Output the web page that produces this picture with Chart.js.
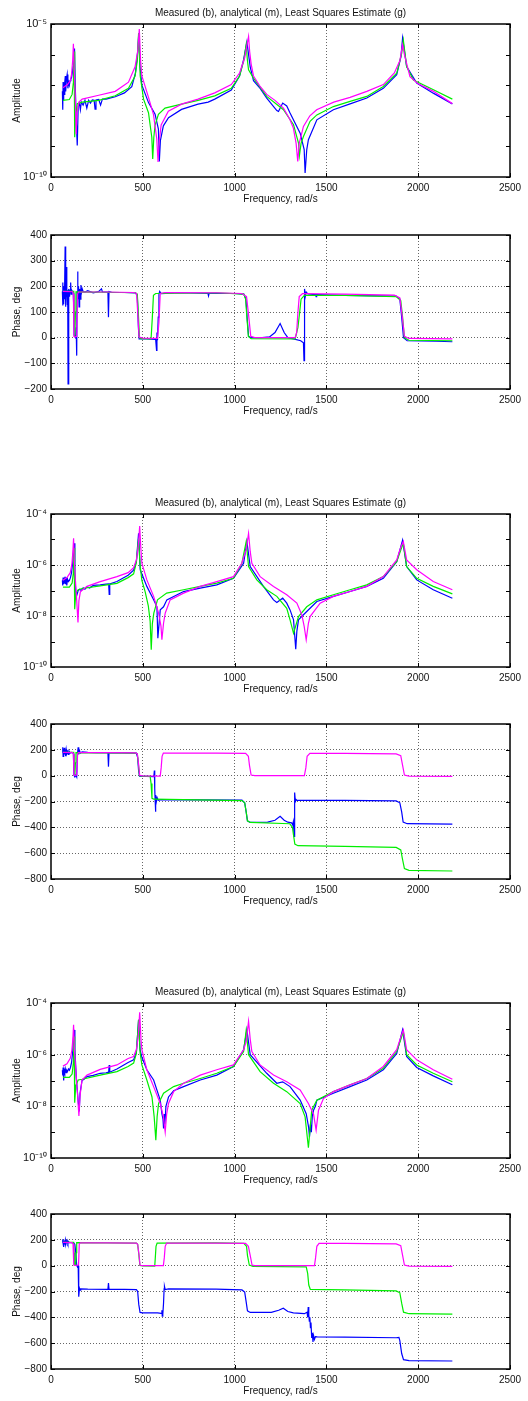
<!DOCTYPE html>
<html>
<head>
<meta charset="utf-8">
<script src="https://cdn.jsdelivr.net/npm/chart.js@4.4.1/dist/chart.umd.min.js"></script>
<style>
html, body { margin: 0; padding: 0; background: #fff; overflow: hidden; }
body { width: 528px; height: 1401px; position: relative; }
canvas { position: absolute; left: 0; }
</style>
</head>
<body>
<canvas id="amp1" width="528" height="211" style="top:0px"></canvas>
<canvas id="ph1" width="528" height="200" style="top:223px"></canvas>
<canvas id="amp2" width="528" height="211" style="top:490px"></canvas>
<canvas id="ph2" width="528" height="201" style="top:712px"></canvas>
<canvas id="amp3" width="528" height="213" style="top:979px"></canvas>
<canvas id="ph3" width="528" height="201" style="top:1202px"></canvas>
<script>
// ---- tick labels ----
var freqTicks = [0, 500, 1000, 1500, 2000, 2500];
var ampDecades1 = [1e-10, 1e-9, 1e-8, 1e-7, 1e-6, 1e-5];
var ampLabels1 = [1e-10, 1e-5];
var ampDecades2 = [1e-10, 1e-9, 1e-8, 1e-7, 1e-6, 1e-5, 1e-4];
var ampLabels2 = [1e-10, 1e-8, 1e-6, 1e-4];

// ---- plot 1: amplitude ----
var a1MeasFreq = [62, 64, 66, 68, 70, 72, 75, 78, 80, 84, 88, 92, 96, 100, 104, 108, 112, 116, 120, 124,
  128, 132, 138, 143, 148, 155, 160, 165, 175, 185, 195, 205, 215, 225, 235, 240, 245, 260, 270, 280,
  300, 320, 350, 400, 440, 460, 472, 478, 485, 495, 531, 567, 585, 590, 596, 612, 640, 711, 801, 856,
  892, 982, 1027, 1049, 1067, 1085, 1103, 1139, 1175, 1230, 1239, 1262, 1284, 1302, 1357, 1379, 1384, 1393, 1402, 1448,
  1538, 1629, 1720, 1810, 1883, 1906, 1915, 1937, 1992, 2082, 2186];
var a1Meas = [6.3e-8, 1.58e-8, 1.26e-7, 3.2e-8, 1.12e-7, 5.0e-8, 1.26e-7, 2.0e-7, 6.3e-8, 1.58e-7,
  2.24e-7, 7.9e-8, 1.26e-7, 1.0e-7, 1.41e-7, 1.58e-7, 1.78e-7, 2.5e-7, 4.0e-7, 7.1e-7,
  1.58e-6, 1.0e-7, 6.3e-9, 1.07e-9, 2.0e-8, 2.5e-8, 1.58e-8, 2.8e-8, 2.24e-8, 3.2e-8,
  1.78e-8, 3.2e-8, 2.6e-8, 3.3e-8, 3.2e-8, 1.66e-8, 3.3e-8, 3.4e-8, 2.24e-8, 3.5e-8,
  3.5e-8, 3.8e-8, 4.2e-8, 5.6e-8, 8.9e-8, 2.5e-7, 1.26e-6, 5.0e-6, 4.0e-7, 1.0e-7,
  2.7e-8, 1.12e-8, 3.7e-9, 3.2e-10, 1.58e-9, 4.7e-9, 8.7e-9, 1.62e-8, 2.4e-8, 2.8e-8,
  3.5e-8, 6.9e-8, 2.0e-7, 6.8e-7, 2.6e-6, 4.0e-7, 1.41e-7, 7.9e-8, 3.8e-8, 1.48e-8,
  1.38e-8, 2.6e-8, 2.1e-8, 1.23e-8, 2.7e-9, 7.8e-10, 1.35e-10, 7.9e-10, 1.66e-9, 7.4e-9,
  1.58e-8, 2.45e-8, 3.8e-8, 7.9e-8, 2.2e-7, 8.5e-7, 3.5e-6, 4.1e-7, 1.17e-7, 5.5e-8, 2.45e-8];
var a1AnaFreq = [65, 90, 105, 112, 118, 122, 126, 132, 137, 142, 152, 170, 260, 350, 422, 458, 472, 481, 488, 495,
  531, 558, 576, 583, 590, 600, 639, 711, 801, 892, 982, 1027, 1055, 1070, 1076, 1082, 1090, 1103, 1140, 1175,
  1220, 1266, 1300, 1320, 1335, 1344, 1352, 1375, 1410, 1447, 1540, 1629, 1720, 1810, 1870, 1900, 1915, 1925, 1955, 2000,
  2083, 2186];
var a1Ana = [8.3e-8, 1.05e-7, 1.41e-7, 2.24e-7, 6.3e-7, 2.24e-6, 4.0e-7, 5.0e-8, 2.5e-9, 1.26e-8,
  2.8e-8, 3.5e-8, 4.7e-8, 6.3e-8, 1.26e-7, 4.0e-7, 1.26e-6, 6.8e-6, 6.3e-7, 2.0e-7,
  4.0e-8, 1.12e-8, 1.78e-9, 3.1e-10, 1.58e-9, 5.0e-9, 1.41e-8, 2.4e-8, 3.5e-8, 5.6e-8,
  1.05e-7, 2.5e-7, 7.9e-7, 2.5e-6, 3.9e-6, 1.26e-6, 5.0e-7, 2.0e-7, 8.9e-8, 5.0e-8,
  3.2e-8, 1.78e-8, 7.9e-9, 4.0e-9, 1.26e-9, 3.2e-10, 1.26e-9, 4.5e-9, 1.0e-8, 1.58e-8,
  2.8e-8, 4.0e-8, 6.3e-8, 1.05e-7, 2.5e-7, 6.3e-7, 2.1e-6, 1.0e-6, 1.9e-7, 1.12e-7,
  6.3e-8, 2.5e-8];
var a1LsqFreq = [65, 100, 115, 122, 126, 128, 130, 134, 143, 170, 260, 350, 422, 458, 470, 477, 486, 504, 531, 549,
  554, 560, 567, 585, 621, 711, 801, 892, 982, 1027, 1050, 1063, 1070, 1076, 1103, 1175, 1266, 1321, 1348, 1353,
  1362, 1375, 1411, 1448, 1538, 1629, 1720, 1810, 1883, 1910, 1919, 1937, 1974, 2083, 2186];
var a1Lsq = [3.2e-8, 3.4e-8, 5.0e-8, 1.26e-7, 1.26e-6, 1.0e-7, 2.0e-9, 1.0e-8, 2.5e-8, 2.8e-8,
  3.2e-8, 4.5e-8, 7.9e-8, 2.0e-7, 6.3e-7, 5.0e-6, 2.0e-7, 3.5e-8, 1.26e-8, 2.0e-9,
  3.9e-10, 2.0e-9, 5.0e-9, 1.12e-8, 1.78e-8, 2.4e-8, 3.2e-8, 4.5e-8, 7.9e-8, 2.0e-7,
  6.3e-7, 2.1e-6, 6.3e-7, 3.2e-7, 1.7e-7, 4.3e-8, 1.58e-8, 5.1e-9, 1.29e-9, 5.0e-10,
  1.26e-9, 2.1e-9, 6.6e-9, 1.07e-8, 2.0e-8, 2.95e-8, 4.3e-8, 9.1e-8, 2.45e-7, 1.1e-6,
  3.0e-6, 4.1e-7, 1.48e-7, 7.1e-8, 3.5e-8];

// ---- plot 2: phase ----
var p1MeasFreq = [62, 64, 65, 67, 69, 71, 73, 75, 77, 79, 81, 83, 85, 87, 89, 91, 93, 95, 98, 101,
  104, 107, 110, 113, 117, 121, 124, 126, 130, 134, 137, 140, 142, 145, 147, 150, 153, 156, 160, 163,
  166, 170, 175, 185, 200, 230, 260, 275, 280, 310, 313, 316, 330, 400, 460, 470, 476, 480, 520, 570,
  575, 577, 580, 584, 588, 592, 600, 700, 855, 858, 861, 1000, 1050, 1062, 1068, 1076, 1090, 1150, 1190, 1220,
  1248, 1270, 1290, 1320, 1360, 1375, 1378, 1380, 1382, 1385, 1390, 1400, 1440, 1444, 1447, 1600, 1880, 1900, 1910, 1920,
  1940, 2100, 2186];
var p1Meas = [180, 215, 125, 200, 130, 190, 150, 185, 355, 170, 120, 275, 160, 190, 130, 185, -180, 170, 190, 160,
  185, 215, 170, 185, 180, 175, 120, 10, 5, 0, 40, -70, 180, 258, 150, 200, 120, 190, 150, 205,
  175, 190, 180, 178, 183, 175, 180, 190, 178, 178, 80, 180, 177, 176, 174, 165, 40, -5, -5, -7,
  -50, 20, -10, 80, 170, 180, 172, 175, 172, 163, 172, 172, 170, 150, 80, 5, 0, 0, 3, 20,
  55, 20, 0, -5, -12, -20, -90, 50, 190, 160, 178, 170, 168, 160, 168, 165, 162, 150, 80, 0,
  -12, -14, -16];
var p1AnaFreq = [65, 118, 122, 125, 130, 140, 145, 150, 300, 450, 466, 473, 480, 500, 580, 588, 595, 620, 900, 1040,
  1065, 1076, 1088, 1110, 1330, 1338, 1344, 1352, 1370, 1600, 1870, 1900, 1912, 1925, 1950, 2186];
var p1Ana = [180, 179, 170, 5, 2, 5, 170, 178, 178, 176, 172, 90, 2, -2, -3, 60, 172, 176, 175, 172,
  160, 90, 5, 0, 0, 20, 90, 160, 172, 170, 166, 155, 90, 5, -3, -5];
var p1LsqFreq = [65, 124, 127, 130, 133, 136, 300, 460, 470, 476, 482, 490, 545, 552, 558, 570, 900, 1050, 1060, 1067,
  1075, 1090, 1330, 1345, 1353, 1362, 1380, 1600, 1880, 1905, 1915, 1925, 1950, 2186];
var p1Lsq = [180, 180, 100, 5, 100, 178, 177, 175, 170, 90, 0, -4, -5, 80, 165, 172, 175, 170, 150, 80,
  5, -4, -5, 40, 90, 150, 165, 165, 160, 145, 80, 0, -10, -12];

// ---- plot 3: amplitude ----
var a2MeasFreq = [62, 64, 66, 68, 70, 73, 76, 79, 82, 86, 90, 95, 100, 106, 112, 118, 122, 126, 130, 135,
  140, 148, 155, 165, 175, 185, 196, 210, 230, 268, 300, 314, 317, 320, 359, 420, 450, 465, 477, 486,
  522, 559, 577, 582, 591, 595, 613, 631, 722, 813, 903, 994, 1049, 1067, 1085, 1157, 1212, 1230, 1262, 1284,
  1302, 1321, 1333, 1339, 1348, 1375, 1448, 1538, 1629, 1720, 1810, 1883, 1915, 1937, 1992, 2082, 2186];
var a2Meas = [2.5e-7, 1.58e-7, 3.2e-7, 1.78e-7, 2.8e-7, 2.0e-7, 3.5e-7, 1.78e-7, 3.2e-7, 1.58e-7,
  2.8e-7, 2.24e-7, 2.5e-7, 3.2e-7, 5.0e-7, 1.26e-6, 3.2e-6, 7.1e-6, 5.0e-7, 7.9e-8,
  6.3e-8, 1.0e-7, 1.12e-7, 1.0e-7, 1.26e-7, 1.12e-7, 1.41e-7, 1.26e-7, 1.58e-7, 1.66e-7,
  1.78e-7, 1.82e-7, 7.1e-8, 1.82e-7, 2.24e-7, 4.0e-7, 6.3e-7, 1.41e-6, 1.74e-5, 6.5e-7,
  1.45e-7, 4.3e-8, 2.3e-8, 1.35e-9, 7.9e-9, 1.74e-8, 2.3e-8, 4.3e-8, 9.1e-8, 1.23e-7,
  1.66e-7, 3.0e-7, 1.17e-6, 8.3e-6, 8.7e-7, 1.45e-7, 4.3e-8, 3.4e-8, 5.0e-8, 3.2e-8,
  1.74e-8, 7.1e-9, 5.0e-10, 2.5e-9, 7.1e-9, 1.12e-8, 3.7e-8, 5.9e-8, 9.1e-8, 1.45e-7,
  3.0e-7, 1.35e-6, 9.5e-6, 8.7e-7, 2.6e-7, 1.07e-7, 5.0e-8];
var a2AnaFreq = [65, 87, 105, 114, 119, 123, 127, 133, 140, 147, 152, 160, 196, 268, 359, 420, 450, 465, 475, 483,
  489, 495, 522, 559, 586, 599, 604, 613, 622, 649, 722, 813, 903, 994, 1039, 1063, 1076, 1085, 1094, 1139,
  1212, 1284, 1339, 1366, 1379, 1390, 1402, 1411, 1466, 1538, 1629, 1720, 1810, 1883, 1906, 1919, 1937, 1992, 2082, 2186];
var a2Ana = [2.5e-7, 3.2e-7, 5.0e-7, 1.12e-6, 3.2e-6, 1.12e-5, 1.58e-6, 2.5e-7, 4.0e-8, 5.6e-9,
  4.0e-8, 8.9e-8, 1.45e-7, 2.24e-7, 3.5e-7, 5.0e-7, 7.9e-7, 1.58e-6, 5.0e-6, 3.4e-5,
  5.0e-6, 1.17e-6, 2.6e-7, 5.9e-8, 1.29e-8, 4.0e-9, 1.17e-9, 5.2e-9, 1.29e-8, 4.3e-8,
  7.9e-8, 1.45e-7, 2.24e-7, 3.5e-7, 1.17e-6, 4.0e-6, 1.74e-5, 3.4e-6, 1.17e-6, 3.5e-7,
  1.45e-7, 6.8e-8, 3.2e-8, 1.12e-8, 3.9e-9, 1.17e-9, 5.2e-9, 9.5e-9, 3.2e-8, 5.9e-8,
  9.1e-8, 1.45e-7, 3.5e-7, 1.58e-6, 5.2e-6, 8.3e-6, 1.58e-6, 6.5e-7, 2.24e-7, 1.07e-7];
var a2LsqFreq = [65, 100, 115, 122, 126, 128, 130, 135, 148, 170, 268, 359, 420, 450, 465, 477, 485, 495, 513, 530,
  540, 546, 552, 560, 580, 630, 722, 813, 903, 994, 1039, 1063, 1076, 1121, 1175, 1230, 1284, 1302, 1321, 1348,
  1393, 1448, 1538, 1629, 1720, 1810, 1883, 1906, 1919, 1937, 1992, 2082, 2186];
var a2Lsq = [1.35e-7, 1.35e-7, 1.95e-7, 5.0e-7, 4.6e-6, 3.2e-7, 1.86e-8, 7.9e-8, 1.07e-7, 1.2e-7,
  1.51e-7, 1.9e-7, 3.2e-7, 4.5e-7, 1.26e-6, 1.12e-5, 1.0e-6, 2.5e-7, 8.9e-8, 2.5e-8,
  6.3e-9, 4.8e-10, 5.0e-9, 1.29e-8, 4.3e-8, 7.9e-8, 1.07e-7, 1.45e-7, 1.95e-7, 3.0e-7,
  1.12e-6, 8.3e-6, 8.7e-7, 2.6e-7, 1.07e-7, 5.9e-8, 2.0e-8, 7.1e-9, 2.1e-9, 9.5e-9,
  2.3e-8, 4.3e-8, 6.8e-8, 1.07e-7, 1.66e-7, 3.5e-7, 1.35e-6, 4.0e-6, 7.1e-6, 8.7e-7,
  3.0e-7, 1.45e-7, 7.4e-8];

// ---- plot 4: phase ----
var p2MeasFreq = [62, 64, 66, 68, 70, 72, 74, 77, 80, 83, 86, 90, 94, 98, 104, 110, 118, 122, 125, 130,
  135, 140, 144, 148, 151, 155, 160, 170, 200, 250, 310, 313, 316, 400, 465, 472, 477, 482, 520, 560,
  563, 565, 567, 569, 571, 574, 578, 584, 600, 800, 1040, 1055, 1063, 1070, 1085, 1180, 1220, 1248, 1270, 1290,
  1310, 1316, 1320, 1324, 1326, 1328, 1331, 1335, 1340, 1600, 1880, 1900, 1910, 1918, 1940, 2186];
var p2Meas = [180, 220, 150, 205, 160, 215, 165, 190, 150, 200, 170, 185, 165, 190, 175, 180, 178, 170, 5, -10,
  5, -10, 170, 220, 165, 195, 175, 185, 180, 178, 178, 70, 178, 177, 174, 140, 40, -3, -5, -8,
  40, -100, -180, -280, -150, -200, -170, -190, -185, -188, -190, -210, -280, -350, -362, -360, -345, -315, -345, -360,
  -365, -380, -355, -470, -300, -130, -200, -185, -192, -192, -195, -210, -280, -360, -372, -375];
var p2AnaFreq = [65, 118, 122, 125, 130, 140, 145, 150, 300, 460, 470, 477, 483, 500, 595, 600, 605, 612, 900, 1060,
  1075, 1081, 1090, 1110, 1380, 1388, 1395, 1410, 1600, 1880, 1905, 1915, 1925, 1950, 2186];
var p2Ana = [180, 179, 170, 5, 2, 5, 170, 178, 178, 176, 170, 90, 3, -2, -3, 60, 150, 175, 175, 172,
  150, 80, 5, 0, 0, 60, 150, 172, 172, 168, 155, 80, 5, -3, -5];
var p2LsqFreq = [65, 124, 127, 130, 133, 136, 300, 460, 470, 476, 482, 500, 540, 545, 550, 560, 800, 1040, 1055, 1063,
  1070, 1085, 1300, 1315, 1321, 1328, 1345, 1600, 1880, 1905, 1915, 1925, 1950, 2186];
var p2Lsq = [180, 180, 100, 5, 100, 178, 177, 175, 170, 90, 0, -3, -5, -60, -175, -182, -188, -193, -210, -280,
  -350, -362, -372, -400, -460, -530, -542, -548, -555, -575, -650, -720, -733, -738];

// ---- plot 5: amplitude ----
var a3MeasFreq = [62, 64, 66, 68, 70, 72, 75, 78, 82, 86, 90, 95, 100, 106, 112, 118, 122, 126, 130, 138,
  148, 154, 158, 169, 180, 196, 230, 268, 300, 314, 317, 320, 359, 420, 450, 465, 477, 485, 495, 522,
  559, 595, 604, 610, 613, 616, 620, 626, 640, 668, 722, 813, 903, 994, 1049, 1067, 1085, 1175, 1230, 1262,
  1302, 1357, 1390, 1403, 1408, 1413, 1418, 1423, 1430, 1440, 1448, 1538, 1629, 1720, 1810, 1883, 1915, 1937, 1992, 2082,
  2186];
var a3Meas = [2.5e-7, 1.58e-7, 3.2e-7, 1.78e-7, 1.0e-7, 2.5e-7, 2.0e-7, 2.8e-7, 2.0e-7, 2.5e-7,
  2.24e-7, 2.8e-7, 2.5e-7, 3.2e-7, 5.0e-7, 1.26e-6, 4.0e-6, 9.1e-6, 1.58e-6, 1.26e-7,
  1.58e-8, 6.3e-9, 3.2e-8, 1.0e-7, 1.12e-7, 1.41e-7, 1.58e-7, 1.9e-7, 2.0e-7, 2.1e-7,
  4.0e-7, 2.1e-7, 2.8e-7, 5.0e-7, 6.3e-7, 1.26e-6, 2.24e-5, 1.58e-6, 7.9e-7, 2.6e-7,
  1.05e-7, 1.74e-8, 5.2e-9, 3.2e-9, 1.38e-9, 5.0e-9, 2.0e-9, 1.0e-8, 2.3e-8, 4.0e-8,
  5.8e-8, 1.05e-7, 1.62e-7, 3.5e-7, 1.55e-6, 9.1e-6, 1.0e-6, 1.9e-7, 7.8e-8, 8.9e-8,
  5.8e-8, 1.74e-8, 5.2e-9, 1.58e-9, 6.6e-10, 2.0e-9, 1.0e-9, 4.0e-9, 7.1e-9, 1.0e-8,
  1.74e-8, 3.2e-8, 5.8e-8, 1.05e-7, 2.6e-7, 1.12e-6, 9.1e-6, 8.5e-7, 3.2e-7, 1.51e-7,
  6.8e-8];
var a3AnaFreq = [65, 87, 105, 114, 119, 123, 127, 135, 145, 152, 158, 169, 196, 268, 359, 420, 450, 465, 475, 483,
  490, 495, 522, 559, 595, 612, 622, 630, 640, 668, 722, 813, 903, 994, 1049, 1063, 1076, 1085, 1094, 1139,
  1212, 1284, 1357, 1402, 1430, 1444, 1457, 1484, 1538, 1629, 1720, 1810, 1883, 1906, 1919, 1937, 1992, 2082, 2186];
var a3Ana = [3.6e-7, 4.4e-7, 7.2e-7, 1.55e-6, 4.0e-6, 1.45e-5, 2.0e-6, 2.5e-7, 2.5e-8, 4.2e-9,
  2.5e-8, 1.05e-7, 1.62e-7, 2.7e-7, 4.0e-7, 7.1e-7, 8.5e-7, 1.58e-6, 5.0e-6, 4.4e-5,
  4.0e-6, 1.55e-6, 2.6e-7, 5.8e-8, 1.29e-8, 4.0e-9, 1.02e-9, 5.0e-9, 1.29e-8, 3.7e-8,
  7.8e-8, 1.62e-7, 2.6e-7, 4.0e-7, 1.55e-6, 3.2e-6, 1.95e-5, 4.0e-6, 1.32e-6, 4.0e-7,
  1.62e-7, 8.9e-8, 4.3e-8, 1.29e-8, 5.0e-9, 1.2e-9, 7.1e-9, 2.0e-8, 3.7e-8, 6.8e-8,
  1.2e-7, 3.5e-7, 1.55e-6, 5.0e-6, 9.1e-6, 1.55e-6, 6.3e-7, 2.6e-7, 1.12e-7];
var a3LsqFreq = [65, 100, 115, 122, 126, 128, 130, 135, 148, 170, 268, 359, 420, 450, 465, 477, 485, 495, 522, 550,
  562, 571, 578, 586, 613, 668, 722, 813, 903, 994, 1049, 1063, 1076, 1139, 1212, 1284, 1357, 1384, 1402, 1420,
  1448, 1538, 1629, 1720, 1810, 1883, 1906, 1919, 1937, 1992, 2082, 2186];
var a3Lsq = [1.32e-7, 1.32e-7, 1.78e-7, 5.0e-7, 5.0e-6, 3.2e-7, 1.38e-8, 6.3e-8, 1.05e-7, 1.12e-7,
  1.62e-7, 2.2e-7, 3.5e-7, 4.7e-7, 1.12e-6, 2.24e-5, 1.26e-6, 4.0e-7, 1.05e-7, 2.3e-8,
  3.9e-9, 4.9e-10, 4.0e-9, 1.29e-8, 3.2e-8, 5.8e-8, 7.8e-8, 1.2e-7, 1.9e-7, 3.5e-7,
  1.32e-6, 8.7e-6, 1.0e-6, 2.2e-7, 7.8e-8, 3.7e-8, 1.29e-8, 3.9e-9, 2.5e-10, 7.1e-9,
  1.74e-8, 3.7e-8, 6.8e-8, 1.2e-7, 3.0e-7, 1.32e-6, 4.0e-6, 7.9e-6, 1.0e-6, 4.0e-7,
  1.9e-7, 8.9e-8];

// ---- plot 6: phase ----
var p3MeasFreq = [62, 64, 66, 68, 70, 72, 75, 78, 81, 84, 88, 92, 96, 100, 110, 125, 130, 135, 140, 144,
  148, 150, 152, 155, 158, 162, 200, 310, 313, 316, 400, 465, 472, 478, 485, 500, 580, 600, 604, 606,
  608, 610, 613, 616, 618, 622, 640, 900, 1040, 1055, 1063, 1070, 1085, 1200, 1240, 1265, 1290, 1320, 1380, 1395,
  1398, 1401, 1404, 1407, 1410, 1413, 1416, 1420, 1423, 1427, 1430, 1435, 1440, 1450, 1600, 1880, 1895, 1900, 1910, 1920,
  1950, 2186];
var p3Meas = [180, 205, 170, 195, 145, 185, 175, 200, 165, 180, 195, 170, 185, 178, 178, 175, 165, 100, 5, -10,
  0, -100, -240, -175, -190, -180, -182, -183, -135, -183, -184, -185, -200, -300, -362, -365, -366, -370, -345, -390,
  -350, -375, -290, -180, -160, -185, -180, -182, -188, -205, -280, -350, -362, -362, -345, -330, -355, -365, -372, -360,
  -400, -320, -380, -430, -400, -480, -440, -560, -520, -590, -540, -570, -550, -552, -553, -558, -555, -580, -680, -728,
  -735, -738];
var p3AnaFreq = [65, 115, 120, 124, 135, 150, 154, 160, 300, 465, 472, 479, 485, 500, 612, 617, 622, 630, 900, 1060,
  1075, 1085, 1095, 1110, 1435, 1441, 1448, 1460, 1600, 1880, 1905, 1915, 1925, 1950, 2186];
var p3Ana = [180, 179, 170, 5, 2, 5, 170, 176, 176, 175, 165, 90, 3, 0, 0, 60, 150, 175, 175, 172,
  150, 80, 5, 0, 0, 60, 150, 172, 172, 168, 155, 80, 5, -3, -5];
var p3LsqFreq = [65, 123, 126, 128, 134, 137, 140, 300, 465, 472, 478, 484, 500, 565, 568, 572, 578, 900, 1050, 1065,
  1070, 1080, 1100, 1390, 1398, 1404, 1412, 1600, 1880, 1900, 1910, 1920, 1950, 2186];
var p3Lsq = [180, 180, 100, 5, 5, 100, 178, 177, 175, 165, 90, 2, -2, -3, 60, 150, 175, 176, 172, 150,
  80, 5, -5, -10, -60, -150, -183, -188, -195, -210, -290, -360, -372, -375];

// ---- drawing ----
Chart.defaults.font.family = '"Liberation Sans", Arial, Helvetica, sans-serif';
Chart.defaults.font.size = 10;
Chart.defaults.color = '#111';

var BLUE = '#0000ff', GREEN = '#00ee00', MAGENTA = '#ff00ff';
var TITLE = 'Measured (b), analytical (m), Least Squares Estimate (g)';
var SUP = { '-': '\u207b', '0': '\u2070', '1': '\u00b9', '2': '\u00b2', '3': '\u00b3', '4': '\u2074',
  '5': '\u2075', '6': '\u2076', '7': '\u2077', '8': '\u2078', '9': '\u2079' };

function pts(xs, ys) {
  return xs.map(function (x, i) { return { x: x, y: ys[i] }; });
}

function series(xs, ys, color) {
  return { data: pts(xs, ys), borderColor: color, borderWidth: 1.2, pointRadius: 0, fill: false, tension: 0 };
}

function powLabel(v) {
  var e = String(Math.round(Math.log10(v)));
  return '10' + e.split('').map(function (c) { return SUP[c]; }).join('');
}

function hiddenAt(values) {
  return function (ctx) {
    if (!ctx.tick) return 'rgba(0,0,0,0)';
    return values.indexOf(ctx.tick.value) >= 0 ? 'rgba(0,0,0,0)' : '#666';
  };
}

function freqAxis() {
  return {
    type: 'linear', min: 0, max: 2500,
    afterBuildTicks: function (s) { s.ticks = freqTicks.map(function (v) { return { value: v }; }); },
    ticks: { padding: 5, maxRotation: 0, autoSkip: false, callback: function (v) { return String(v); } },
    grid: { color: hiddenAt([0, 2500]), drawTicks: false, lineWidth: 1 },
    border: { display: false, dash: [1, 2] },
    title: { display: true, text: 'Frequency, rad/s', padding: { top: 0, bottom: 6 } },
    afterFit: function (s) { s.height = 34; }
  };
}

function ampAxis(decades, labelled) {
  var edges = [decades[0], decades[decades.length - 1]];
  return {
    type: 'logarithmic', min: decades[0], max: decades[decades.length - 1],
    afterBuildTicks: function (s) { s.ticks = decades.map(function (v) { return { value: v }; }); },
    ticks: {
      autoSkip: false, padding: 4, font: { size: 11 },
      callback: function (v) { return labelled.indexOf(v) >= 0 ? powLabel(v) : ''; }
    },
    grid: {
      drawTicks: false,
      color: function (ctx) {
        if (!ctx.tick) return 'rgba(0,0,0,0)';
        var v = ctx.tick.value;
        return (labelled.indexOf(v) >= 0 && edges.indexOf(v) < 0) ? '#666' : 'rgba(0,0,0,0)';
      }
    },
    border: { display: false, dash: [1, 2] },
    title: { display: true, text: 'Amplitude', padding: { top: 11, bottom: 0 } },
    afterFit: function (s) { s.width = 51; }
  };
}

function phaseAxis(min, max, step) {
  return {
    type: 'linear', min: min, max: max,
    ticks: {
      stepSize: step, padding: 4, autoSkip: false,
      callback: function (v) { return String(v).replace('-', '\u2212'); }
    },
    grid: { color: hiddenAt([min, max]), drawTicks: false },
    border: { display: false, dash: [1, 2] },
    title: { display: true, text: 'Phase, deg', padding: { top: 11, bottom: 0 } },
    afterFit: function (s) { s.width = 51; }
  };
}

// box round the plot area with MATLAB-like inward ticks
var framePlugin = {
  id: 'frame',
  afterDatasetsDraw: function (chart) {
    var a = chart.chartArea, ctx = chart.ctx;
    var xs = chart.scales.x, ys = chart.scales.y;
    ctx.save();
    ctx.strokeStyle = '#000';
    ctx.lineWidth = 1;
    ctx.beginPath();
    xs.ticks.forEach(function (t) {
      var px = Math.round(xs.getPixelForValue(t.value)) + 0.5;
      ctx.moveTo(px, a.bottom); ctx.lineTo(px, a.bottom - 4);
      ctx.moveTo(px, a.top); ctx.lineTo(px, a.top + 4);
    });
    ys.ticks.forEach(function (t) {
      var py = Math.round(ys.getPixelForValue(t.value)) + 0.5;
      ctx.moveTo(a.left, py); ctx.lineTo(a.left + 4, py);
      ctx.moveTo(a.right, py); ctx.lineTo(a.right - 4, py);
    });
    ctx.stroke();
    ctx.lineWidth = 1.5;
    ctx.strokeRect(a.left, a.top, a.right - a.left, a.bottom - a.top);
    ctx.restore();
  }
};

function makeChart(id, sets, yAxis, withTitle) {
  new Chart(document.getElementById(id), {
    type: 'line',
    data: { datasets: sets },
    options: {
      responsive: false,
      animation: false,
      events: [],
      layout: { padding: { left: 0, right: 18, top: withTitle ? 0 : 12, bottom: 0 } },
      scales: { x: freqAxis(), y: yAxis },
      plugins: {
        legend: { display: false },
        tooltip: { enabled: false },
        title: {
          display: withTitle, text: TITLE, fullSize: false, color: '#111',
          font: { size: 10, weight: 'normal' }, padding: { top: 7, bottom: 5 }
        }
      }
    },
    plugins: [framePlugin]
  });
}

makeChart('amp1', [
  series(a1AnaFreq, a1Ana, MAGENTA),
  series(a1LsqFreq, a1Lsq, GREEN),
  series(a1MeasFreq, a1Meas, BLUE)
], ampAxis(ampDecades1, ampLabels1), true);

makeChart('ph1', [
  series(p1AnaFreq, p1Ana, MAGENTA),
  series(p1LsqFreq, p1Lsq, GREEN),
  series(p1MeasFreq, p1Meas, BLUE)
], phaseAxis(-200, 400, 100), false);

makeChart('amp2', [
  series(a2AnaFreq, a2Ana, MAGENTA),
  series(a2LsqFreq, a2Lsq, GREEN),
  series(a2MeasFreq, a2Meas, BLUE)
], ampAxis(ampDecades2, ampLabels2), true);

makeChart('ph2', [
  series(p2AnaFreq, p2Ana, MAGENTA),
  series(p2LsqFreq, p2Lsq, GREEN),
  series(p2MeasFreq, p2Meas, BLUE)
], phaseAxis(-800, 400, 200), false);

makeChart('amp3', [
  series(a3AnaFreq, a3Ana, MAGENTA),
  series(a3LsqFreq, a3Lsq, GREEN),
  series(a3MeasFreq, a3Meas, BLUE)
], ampAxis(ampDecades2, ampLabels2), true);

makeChart('ph3', [
  series(p3AnaFreq, p3Ana, MAGENTA),
  series(p3LsqFreq, p3Lsq, GREEN),
  series(p3MeasFreq, p3Meas, BLUE)
], phaseAxis(-800, 400, 200), false);
</script>
</body>
</html>
